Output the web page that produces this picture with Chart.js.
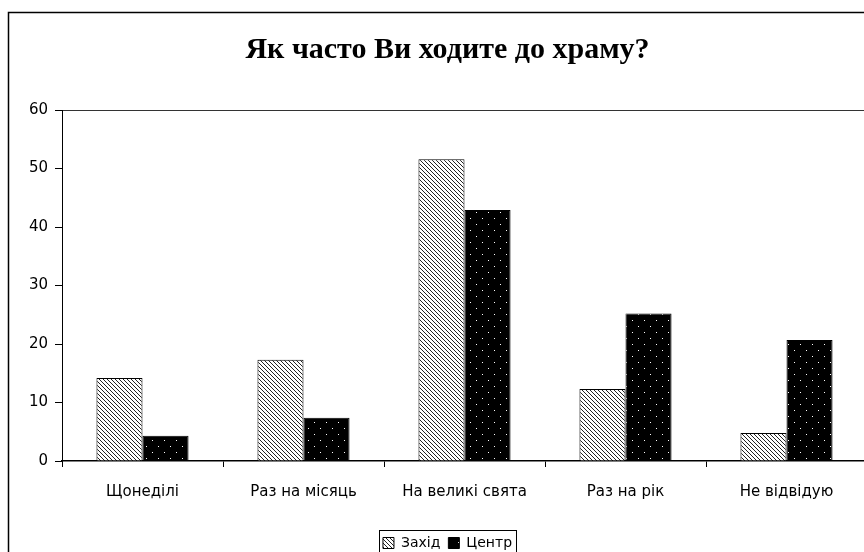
<!DOCTYPE html>
<html>
<head>
<meta charset="utf-8">
<script src="https://cdn.jsdelivr.net/npm/chart.js@4"></script>
<style>
    html, body { margin: 0; padding: 0; background: #fff; overflow: hidden; }
    #wrap { width: 900px; height: 560px; }
</style>
</head>
<body>
<div id="wrap"><canvas id="churchChart" width="900" height="560"></canvas></div>
<script>
const categories = ["Щонеділі", "Раз на місяць", "На великі свята", "Раз на рік", "Не відвідую"];
const zakhid = [14.2, 17.3, 51.6, 12.3, 4.8];
const tsentr = [4.3, 7.4, 42.9, 25.2, 20.7];
const yTicks = [0, 10, 20, 30, 40, 50, 60];

// hatched fill for "Захід"
function makeHatch() {
    const c = document.createElement("canvas");
    c.width = 4; c.height = 4;
    const g = c.getContext("2d");
    g.fillStyle = "#fff";
    g.fillRect(0, 0, 4, 4);
    g.fillStyle = "#222";
    for (let i = 0; i < 4; i++) g.fillRect(i, i, 1, 1);
    return g.createPattern(c, "repeat");
}

// black with small white dots for "Центр"
function makeDots() {
    const c = document.createElement("canvas");
    c.width = 12; c.height = 12;
    const g = c.getContext("2d");
    g.fillStyle = "#000";
    g.fillRect(0, 0, 12, 12);
    g.fillStyle = "#fff";
    g.fillRect(2, 2, 1, 1);
    g.fillRect(8, 8, 1, 1);
    return g.createPattern(c, "repeat");
}

const framePlugin = {
    id: "frame",
    beforeDraw(chart) {
        const ctx = chart.ctx;
        ctx.save();
        ctx.fillStyle = "#fff";
        ctx.fillRect(0, 0, chart.width, chart.height);
        ctx.strokeStyle = "#000";
        ctx.lineWidth = 1.5;
        ctx.strokeRect(8.5, 12.5, 1000, 1000);
        ctx.restore();
    },
    afterDraw(chart) {
        const boxes = chart.legend.legendHitBoxes;
        if (!boxes || !boxes.length) return;
        const left = Math.min(...boxes.map(b => b.left)) - 4;
        const right = Math.max(...boxes.map(b => b.left + b.width)) + 4;
        const top = Math.min(...boxes.map(b => b.top)) - 6;
        const ctx = chart.ctx;
        ctx.save();
        ctx.strokeStyle = "#000";
        ctx.lineWidth = 1;
        ctx.strokeRect(Math.round(left) + 0.5, Math.round(top) + 0.5, Math.round(right - left), 40);
        ctx.restore();
    }
};

const font = { family: "'DejaVu Sans', sans-serif", size: 15 };

new Chart(document.getElementById("churchChart"), {
    type: "bar",
    data: {
        labels: categories,
        datasets: [
            {
                label: "Захід",
                data: zakhid,
                backgroundColor: makeHatch(),
                borderColor: "#000",
                borderWidth: 1,
                barPercentage: 1,
                categoryPercentage: 0.572
            },
            {
                label: "Центр",
                data: tsentr,
                backgroundColor: makeDots(),
                borderColor: "#000",
                borderWidth: 1,
                barPercentage: 1,
                categoryPercentage: 0.572
            }
        ]
    },
    options: {
        responsive: false,
        animation: false,
        layout: { padding: { left: 28, right: 33, top: 0, bottom: 0 } },
        plugins: {
            title: {
                display: true,
                text: "Як часто Ви ходите до храму?",
                color: "#000",
                font: { family: "'Liberation Serif', serif", size: 30, weight: "bold", lineHeight: 1.2 },
                padding: { top: 32, bottom: 42 }
            },
            legend: {
                position: "bottom",
                labels: {
                    color: "#000",
                    font: { family: "'DejaVu Sans', sans-serif", size: 14 },
                    boxWidth: 11,
                    boxHeight: 11,
                    padding: 8
                }
            },
            tooltip: { enabled: false }
        },
        scales: {
            x: {
                afterFit: (scale) => { scale.height = 67; },
                border: { color: "#000", width: 1.5 },
                grid: {
                    offset: true,
                    drawOnChartArea: false,
                    tickLength: 6,
                    tickColor: "#000"
                },
                ticks: { color: "#000", font: font, padding: 16, maxRotation: 0 }
            },
            y: {
                min: 0,
                max: 60,
                afterFit: (scale) => { scale.width = 34; },
                afterBuildTicks: (scale) => { scale.ticks = yTicks.map(v => ({ value: v })); },
                border: { color: "#000", width: 1 },
                grid: {
                    color: (c) => (c.tick && c.tick.value === 60 ? "#333" : "rgba(0,0,0,0)"),
                    tickColor: "#000",
                    tickLength: 7
                },
                ticks: { color: "#000", font: font, padding: 7 }
            }
        }
    },
    plugins: [framePlugin]
});
</script>
</body>
</html>
